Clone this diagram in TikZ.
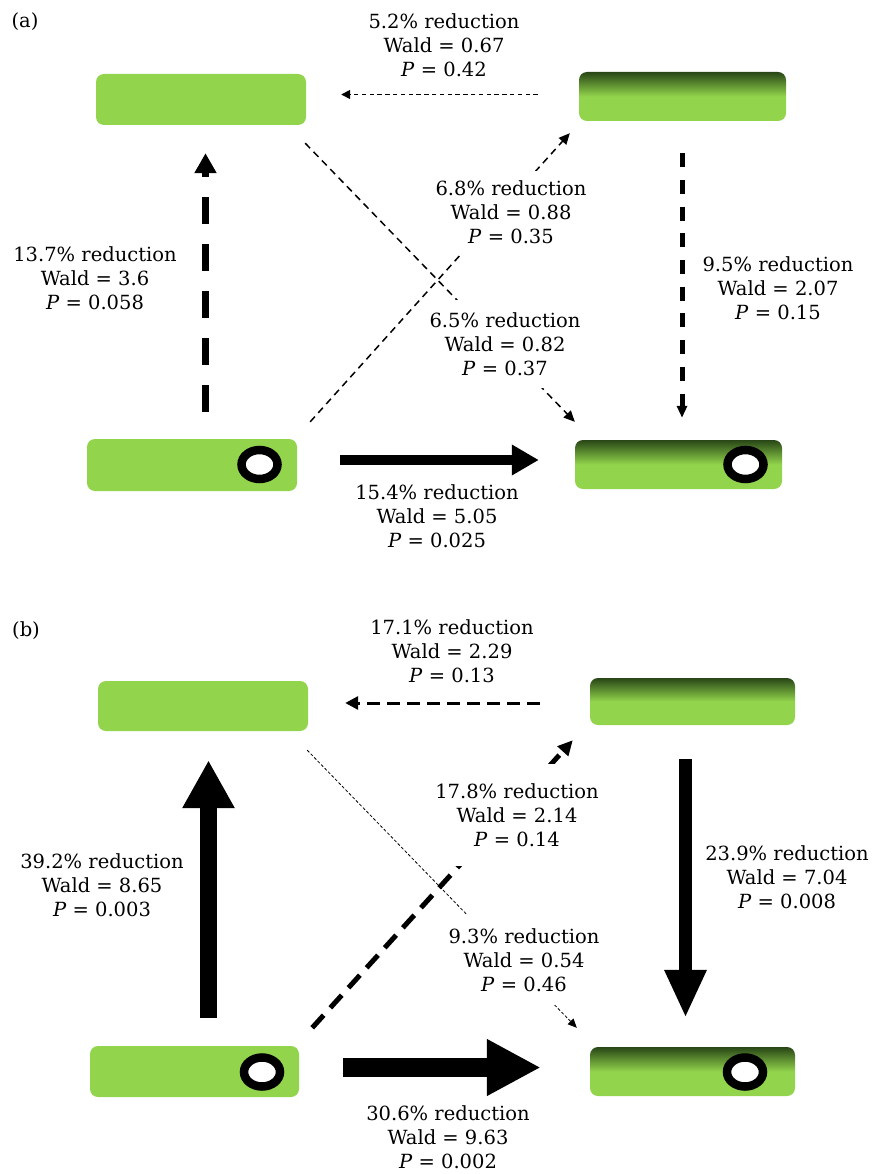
\documentclass[tikz,border=0pt]{standalone}
\usepackage{fontspec}
\setmainfont{DejaVu Serif}
\usetikzlibrary{arrows.meta,calc,shapes.geometric}
\definecolor{lg}{RGB}{146,212,76}
\definecolor{dg}{RGB}{40,70,22}
\pgfdeclareverticalshading{boxshade}{100bp}{color(0bp)=(lg); color(50bp)=(lg); color(75bp)=(dg); color(100bp)=(dg)}
\tikzset{
  box/.style={rectangle, rounded corners=8pt, fill=lg, draw=none, inner sep=0pt},
  gbox/.style={rectangle, rounded corners=8pt, shade, shading=boxshade, draw=none, inner sep=0pt},
  ring/.style={ellipse, draw=black, line width=8.5pt, fill=white, minimum width=36pt, minimum height=29pt, inner sep=0pt},
  lab/.style={align=center, font=\fontsize{19.5}{24}\selectfont, inner sep=2pt},
  wlab/.style={lab, fill=white, inner xsep=2pt},
  panel/.style={font=\fontsize{19.5}{24}\selectfont, inner sep=0pt},
}
\begin{document}
\begin{tikzpicture}[x=1pt,y=-1pt]
\useasboundingbox (0,0) rectangle (872,1174);
% ---------------- panel (a) ----------------
\node[panel] (pa) at (25,22) {(a)};
\node[box, minimum width=210pt, minimum height=51pt] (TLa) at (201,99.5) {};
\node[gbox, minimum width=207pt, minimum height=49pt] (TRa) at (682.5,96.5) {};
\node[box, minimum width=210pt, minimum height=52pt] (BLa) at (192,465) {};
\node[gbox, minimum width=207pt, minimum height=49pt] (BRa) at (678.5,464.5) {};
\node[ring] (rBLa) at (259.5,464.5) {};
\node[ring] (rBRa) at (745.5,464.5) {};
% arrows (a)
\draw[line width=1.5pt, dash pattern=on 4.5pt off 3.3pt, -{Triangle[length=9pt,width=9pt]}]
  ($(TRa.west)+(-41,-2)$) -- ($(TLa.east)+(35,-5)$);
\draw[line width=7pt, dash pattern=on 27pt off 20pt, -{Triangle[length=20pt,width=21pt]}]
  ($(BLa.north)+(13.5,-27)$) -- ($(TLa.south)+(4.5,28)$);
\draw[line width=5pt, dash pattern=on 14pt off 12.7pt, -{Triangle[length=12pt,width=10pt]}]
  ($(TRa.south)+(-0.5,32)$) -- ($(BRa.north)+(3.5,-22)$);
\draw[line width=10pt, -{Triangle[length=27pt,width=29pt]}]
  ($(BLa.east)+(43,-5)$) -- ($(BRa.west)+(-36,-4.5)$);
\draw[line width=1.5pt, dash pattern=on 7pt off 5pt, -{Triangle[length=11pt,width=10pt]}]
  ($(TLa.south east)+(-1,18)$) -- ($(BRa.north west)+(0,-18)$);
\draw[line width=1.5pt, dash pattern=on 7pt off 5pt, -{Triangle[length=11pt,width=10pt]}]
  ($(BLa.north east)+(13,-17)$) -- ($(TRa.south west)+(-9,12)$);
% labels (a)
\node[lab] (La1) at (444,45) {5.2\% reduction\\Wald = 0.67\\\textit{P} = 0.42};
\node[wlab, inner ysep=9pt] (La2) at (511,212) {6.8\% reduction\\Wald = 0.88\\\textit{P} = 0.35};
\node[lab] (La3) at (95,278) {13.7\% reduction\\Wald = 3.6\\\textit{P} = 0.058};
\node[lab] (La4) at (778,288) {9.5\% reduction\\Wald = 2.07\\\textit{P} = 0.15};
\node[wlab, inner ysep=12pt] (La5) at (505,344) {6.5\% reduction\\Wald = 0.82\\\textit{P} = 0.37};
\node[lab] (La6) at (437,516) {15.4\% reduction\\Wald = 5.05\\\textit{P} = 0.025};
% ---------------- panel (b) ----------------
\node[panel] (pb) at (26,631) {(b)};
\node[box, minimum width=210pt, minimum height=50pt] (TLb) at (203,706) {};
\node[gbox, minimum width=205pt, minimum height=47pt] (TRb) at (692.5,701.5) {};
\node[box, minimum width=209pt, minimum height=51pt] (BLb) at (194.5,1071.5) {};
\node[gbox, minimum width=205pt, minimum height=49pt] (BRb) at (692.5,1071.5) {};
\node[ring] (rBLb) at (262,1072) {};
\node[ring] (rBRb) at (745,1072) {};
% arrows (b)
\draw[line width=3pt, dash pattern=on 13pt off 7pt, -{Triangle[length=13pt,width=13pt]}]
  ($(TRb.west)+(-50,1.5)$) -- ($(TLb.east)+(37,-3)$);
\draw[line width=17pt, -{Triangle[length=48pt,width=49pt]}]
  ($(BLb.north)+(14,-28)$) -- ($(TLb.south)+(5.5,29)$);
\draw[line width=13pt, -{Triangle[length=48pt,width=39pt]}]
  ($(TRb.south)+(-7,34)$) -- ($(BRb.north)+(-7,-29)$);
\draw[line width=19pt, -{Triangle[length=54pt,width=53pt]}]
  ($(BLb.east)+(44,-4)$) -- ($(BRb.west)+(-49,-4)$);
\draw[line width=0.8pt, dash pattern=on 3pt off 2pt, -{Triangle[length=9pt,width=8pt]}]
  ($(TLb.south east)+(-1,19)$) -- ($(BRb.north west)+(-13,-19)$);
\draw[line width=5pt, dash pattern=on 17pt off 10pt, -{Triangle[length=15pt,width=14pt]}]
  ($(BLb.north east)+(13,-18)$) -- ($(TRb.south west)+(-17,15)$);
% labels (b)
\node[lab] (Lb1) at (452,651) {17.1\% reduction\\Wald = 2.29\\\textit{P} = 0.13};
\node[wlab, inner ysep=19pt] (Lb2) at (517,815) {17.8\% reduction\\Wald = 2.14\\\textit{P} = 0.14};
\node[lab] (Lb3) at (102,885) {39.2\% reduction\\Wald = 8.65\\\textit{P} = 0.003};
\node[lab] (Lb4) at (787,877) {23.9\% reduction\\Wald = 7.04\\\textit{P} = 0.008};
\node[wlab, inner ysep=13pt] (Lb5) at (524,960) {9.3\% reduction\\Wald = 0.54\\\textit{P} = 0.46};
\node[lab] (Lb6) at (448,1137) {30.6\% reduction\\Wald = 9.63\\\textit{P} = 0.002};
\end{tikzpicture}
\end{document}
